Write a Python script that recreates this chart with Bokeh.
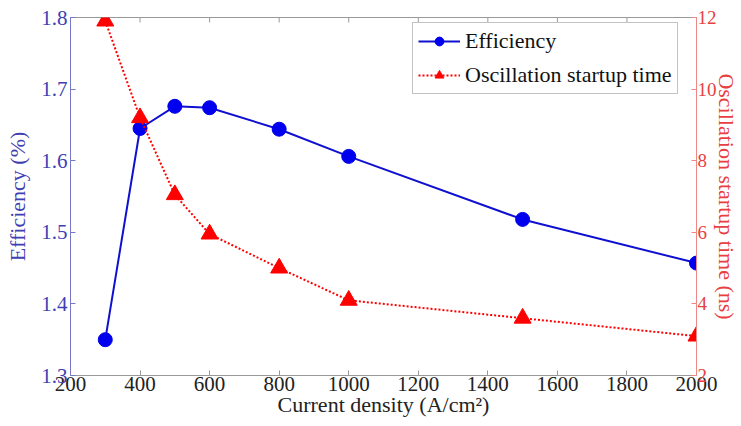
from bokeh.plotting import figure
from bokeh.models import Range1d, LinearAxis, FixedTicker, Legend, LegendItem
from bokeh.embed import file_html
from bokeh.resources import INLINE

current_density = [300, 400, 500, 600, 800, 1000, 1500, 2000]
efficiency = [1.35, 1.645, 1.676, 1.674, 1.644, 1.606, 1.518, 1.457]
startup_time = [11.9, 9.2, 7.05, 5.95, 5.0, 4.1, 3.6, 3.1]

x_ticks = [200, 400, 600, 800, 1000, 1200, 1400, 1600, 1800, 2000]
left_ticks = [1.3, 1.4, 1.5, 1.6, 1.7, 1.8]
right_ticks = [2, 4, 6, 8, 10, 12]

FONT = "Liberation Serif"
BLUE = "#0000ee"
BLUE_TXT = "#4040b4"
RED = "#ff0000"
RED_TXT = "#e84040"
TICK_PX = "21px"
LABEL_PX = "22px"

p = figure(width=741, height=426, output_backend="svg", toolbar_location=None,
           x_range=Range1d(200, 2000), y_range=Range1d(1.3, 1.8),
           min_border_left=70, min_border_top=17, min_border_right=44, min_border_bottom=51)
p.extra_y_ranges = {"t": Range1d(2, 12)}
p.grid.visible = False
p.outline_line_color = "#999999"
p.background_fill_color = "white"
p.border_fill_color = "white"

# bottom axis
xa = p.xaxis[0]
xa.ticker = FixedTicker(ticks=x_ticks)
xa.major_tick_in = 5
xa.major_tick_out = 0
xa.minor_tick_line_color = None
xa.axis_line_color = "#999999"
xa.major_tick_line_color = "#999999"
xa.major_label_text_font = FONT
xa.major_label_text_font_size = TICK_PX
xa.major_label_text_color = "#222222"
xa.major_label_standoff = 1
xa.axis_label = "Current density (A/cm\u00b2)"
xa.axis_label_text_font = FONT
xa.axis_label_text_font_size = LABEL_PX
xa.axis_label_text_font_style = "normal"
xa.axis_label_text_color = "#222222"
xa.axis_label_standoff = -2

# left axis
ya = p.yaxis[0]
ya.ticker = FixedTicker(ticks=left_ticks)
ya.major_tick_in = 5
ya.major_tick_out = 0
ya.minor_tick_line_color = None
ya.axis_line_color = "#7777cc"
ya.major_tick_line_color = "#7777cc"
ya.major_label_text_font = FONT
ya.major_label_text_font_size = TICK_PX
ya.major_label_text_color = BLUE_TXT
ya.major_label_standoff = 3
ya.axis_label = "Efficiency (%)"
ya.axis_label_text_font = FONT
ya.axis_label_text_font_size = LABEL_PX
ya.axis_label_text_font_style = "normal"
ya.axis_label_text_color = BLUE_TXT
ya.axis_label_standoff = 8

# right axis
ra = LinearAxis(y_range_name="t", ticker=FixedTicker(ticks=right_ticks))
ra.major_tick_in = 5
ra.major_tick_out = 0
ra.minor_tick_line_color = None
ra.axis_line_color = "#ee8888"
ra.major_tick_line_color = "#ee8888"
ra.major_label_text_font = FONT
ra.major_label_text_font_size = "19px"
ra.major_label_text_color = RED_TXT
ra.major_label_standoff = 1
ra.axis_label = "Oscillation startup time (ns)"
ra.axis_label_text_font = FONT
ra.axis_label_text_font_size = LABEL_PX
ra.axis_label_text_font_style = "normal"
ra.axis_label_text_color = RED_TXT
ra.axis_label_standoff = -6
p.add_layout(ra, "right")

# top-edge tick marks at the x tick positions
p.segment(x0=x_ticks, y0=[1.8] * len(x_ticks), x1=x_ticks, y1=[1.793] * len(x_ticks),
          line_color="#999999", line_width=1)

# series
l1 = p.line(current_density, efficiency, line_color="#1010d0", line_width=2)
m1 = p.scatter(current_density, efficiency, marker="circle", size=14,
               fill_color=BLUE, line_color=BLUE)
l2 = p.line(current_density, startup_time, y_range_name="t", line_color=RED,
            line_width=2, line_dash="2 2")
m2 = p.scatter(current_density, startup_time, y_range_name="t", marker="triangle",
               size=17, fill_color=RED, line_color=RED)

legend = Legend(items=[LegendItem(label="Efficiency", renderers=[l1, m1]),
                       LegendItem(label="Oscillation startup time", renderers=[l2, m2])],
                location=(342, 281))
legend.label_text_font = FONT
legend.label_text_font_size = "22px"
legend.label_text_color = "#111111"
legend.glyph_width = 42
legend.glyph_height = 22
legend.label_height = 22
legend.spacing = 8
legend.padding = 5
legend.margin = 0
legend.label_standoff = 5
legend.border_line_color = "#888888"
legend.border_line_width = 1
legend.background_fill_alpha = 1
p.add_layout(legend, "center")

open("out.html", "w").write(file_html(p, INLINE))
